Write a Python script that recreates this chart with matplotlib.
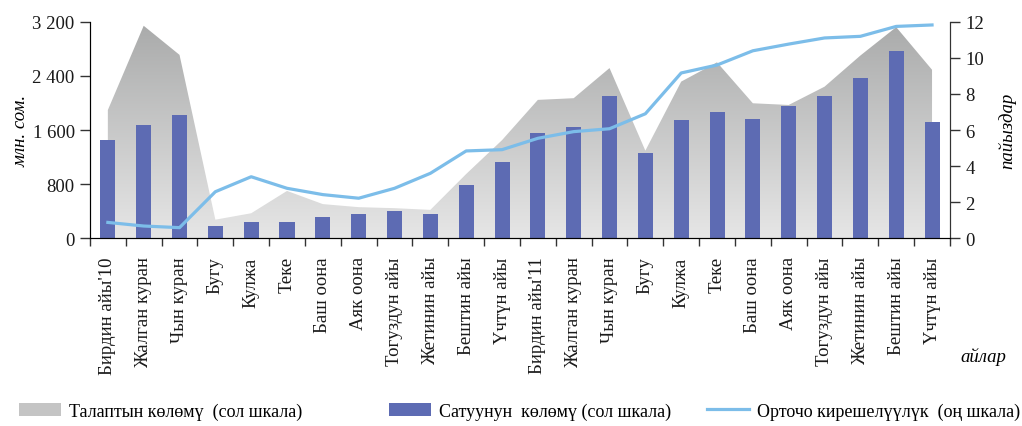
import numpy as np
import matplotlib
matplotlib.use('Agg')
from matplotlib import pyplot as plt
from matplotlib.patches import Polygon, Patch
from matplotlib.lines import Line2D

plt.rcParams['font.family'] = ['Liberation Serif', 'DejaVu Serif']

# month names (Kyrgyz), Jan 2010 .. Dec 2011
months = ["Бирдин айы'10", 'Жалган куран', 'Чын куран', 'Бугу', 'Кулжа', 'Теке',
          'Баш оона', 'Аяк оона', 'Тогуздун айы', 'Жетинин айы', 'Бештин айы', 'Үчтүн айы',
          "Бирдин айы'11", 'Жалган куран', 'Чын куран', 'Бугу', 'Кулжа', 'Теке',
          'Баш оона', 'Аяк оона', 'Тогуздун айы', 'Жетинин айы', 'Бештин айы', 'Үчтүн айы']

# demand volume, mln som (left scale)
demand = [1895, 3140, 2710, 275, 370, 700, 505, 460, 445, 420, 950, 1450,
          2045, 2070, 2515, 1295, 2315, 2600, 1995, 1970, 2240, 2700, 3120, 2490]

# sales volume, mln som (left scale)
sales = [1450, 1675, 1820, 185, 240, 240, 315, 360, 405, 360, 790, 1125,
         1555, 1645, 2100, 1260, 1750, 1865, 1760, 1955, 2100, 2370, 2765, 1720]

# average yield, % (right scale)
yield_pct = [0.88, 0.68, 0.59, 2.58, 3.41, 2.77, 2.42, 2.22, 2.77, 3.60, 4.84, 4.91,
             5.54, 5.91, 6.07, 6.90, 9.16, 9.60, 10.39, 10.76, 11.10, 11.19, 11.74, 11.82]

left_ticks = [0, 800, 1600, 2400, 3200]
left_labels = ['0', '800', '1 600', '2 400', '3 200']
right_ticks = [0, 2, 4, 6, 8, 10, 12]

legend_labels = ['Талаптын көлөмү  (сол шкала)', 'Сатуунун  көлөмү (сол шкала)',
                 'Орточо кирешелүүлүк  (оң шкала)']

bar_color = '#5d6bb3'
line_color = '#7cbde9'
axis_color = '#333333'

fig = plt.figure(figsize=(10.22, 4.27), dpi=100)
ax = fig.add_axes([0.088, 0.4396, 0.8415, 0.5072])
x = np.arange(len(months))

# gradient-filled area for demand
verts = [(x[0], 0)] + list(zip(x, demand)) + [(x[-1], 0)]
poly = Polygon(verts, closed=True, facecolor='none', edgecolor='none')
ax.add_patch(poly)
grad = np.linspace(0, 1, 256).reshape(-1, 1)
img = ax.imshow(grad, extent=[-0.5, 23.5, 0, 3200], aspect='auto', origin='lower',
                cmap=matplotlib.colors.LinearSegmentedColormap.from_list(
                    'g', ['#e6e6e6', '#a9aaaa']), zorder=1)
img.set_clip_path(poly)

ax.bar(x, sales, width=0.42, color=bar_color, zorder=2)

ax.set_xlim(-0.5, 23.5)
ax.set_ylim(0, 3200)
ax.set_yticks(left_ticks)
ax.set_yticklabels(left_labels)
ax.set_xticks(x)
ax.set_xticklabels(months, rotation=90)
ax.set_xticks(np.arange(-0.5, 24, 1), minor=True)
ax.tick_params(axis='x', which='major', length=0, pad=13, labelsize=13.5, colors='#1a1a1a')
ax.tick_params(axis='x', which='minor', length=6, color=axis_color, width=1)
ax.tick_params(axis='y', length=7, color=axis_color, width=1, labelsize=13.5,
               labelcolor='#1a1a1a', pad=4)
ax.spines['top'].set_visible(False)
for s in ['left', 'right', 'bottom']:
    ax.spines[s].set_color(axis_color)
ax.set_ylabel('млн. сом.', fontstyle='italic', fontsize=13.5, labelpad=2)

ax2 = ax.twinx()
ax2.plot(x, yield_pct, color=line_color, linewidth=2.3, zorder=3)
ax2.set_ylim(0, 12)
ax2.set_yticks(right_ticks)
ax2.tick_params(axis='y', length=7, color=axis_color, width=1, labelsize=13.5,
                labelcolor='#1a1a1a', pad=4)
ax2.spines['top'].set_visible(False)
ax2.spines['right'].set_color(axis_color)
ax2.set_ylabel('пайыздар', fontstyle='italic', fontsize=13.5, labelpad=10)

fig.text(0.985, 0.163, 'айлар', fontstyle='italic', fontsize=13.5, ha='right', va='center')

handles = [Patch(facecolor='#c4c4c4', edgecolor='none'),
           Patch(facecolor=bar_color, edgecolor='none'),
           Line2D([0], [0], color=line_color, linewidth=2.3)]
legend_x = [0.0186, 0.3806, 0.6918]
for h, lab, lx in zip(handles, legend_labels, legend_x):
    fig.legend([h], [lab], loc='center left', bbox_to_anchor=(lx, 0.035),
               frameon=False, fontsize=13, handlelength=2.35, handleheight=0.7,
               handletextpad=0.4, borderaxespad=0, borderpad=0)

fig.savefig('out.png', dpi=100)
